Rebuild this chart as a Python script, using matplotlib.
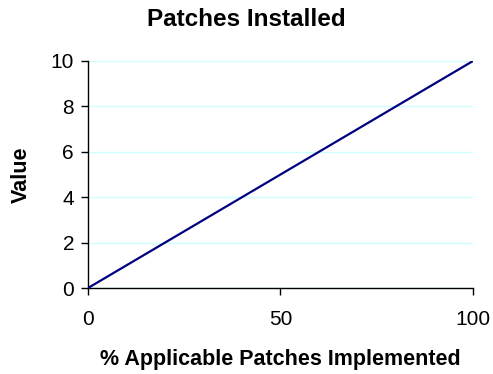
import matplotlib
matplotlib.use('Agg')
import matplotlib.pyplot as plt

# --- Data ---
pct_implemented = [0, 100]
patch_value = [0, 10]
x_ticks = [0, 50, 100]
y_ticks = [0, 2, 4, 6, 8, 10]

plt.rcParams['font.family'] = ['Liberation Sans', 'DejaVu Sans']

fig = plt.figure(figsize=(4.93, 3.74), dpi=100)
ax = fig.add_axes([0.1785, 0.2299, 0.7809, 0.6070])

ax.plot(pct_implemented, patch_value, color='#000080', lw=1.6, solid_capstyle='butt', zorder=3)

ax.set_xlim(0, 100)
ax.set_ylim(0, 10)
ax.set_xticks(x_ticks)
ax.set_yticks(y_ticks)
ax.tick_params(axis='both', direction='out', length=5, width=1, labelsize=15, colors='black')
ax.tick_params(axis='x', pad=11)
ax.tick_params(axis='y', pad=5)

# light cyan gridlines
ax.grid(axis='y', color='#ccffff', lw=1, zorder=0)
ax.set_axisbelow(True)

for side in ['top', 'right']:
    ax.spines[side].set_visible(False)
for side in ['left', 'bottom']:
    ax.spines[side].set_color('black')
    ax.spines[side].set_linewidth(1)

fig.text(0.5, 1 - 19 / 374, 'Patches Installed', ha='center', va='center',
         fontsize=17.5, fontweight='bold')
fig.text((88 + 473) / 2 / 493, 1 - 359 / 374, '% Applicable Patches Implemented',
         ha='center', va='center', fontsize=15.5, fontweight='bold')
fig.text(21 / 493, 1 - 175 / 374, 'Value', ha='center', va='center',
         rotation=90, fontsize=15.5, fontweight='bold')

fig.savefig('out.png', dpi=100, facecolor='white')
